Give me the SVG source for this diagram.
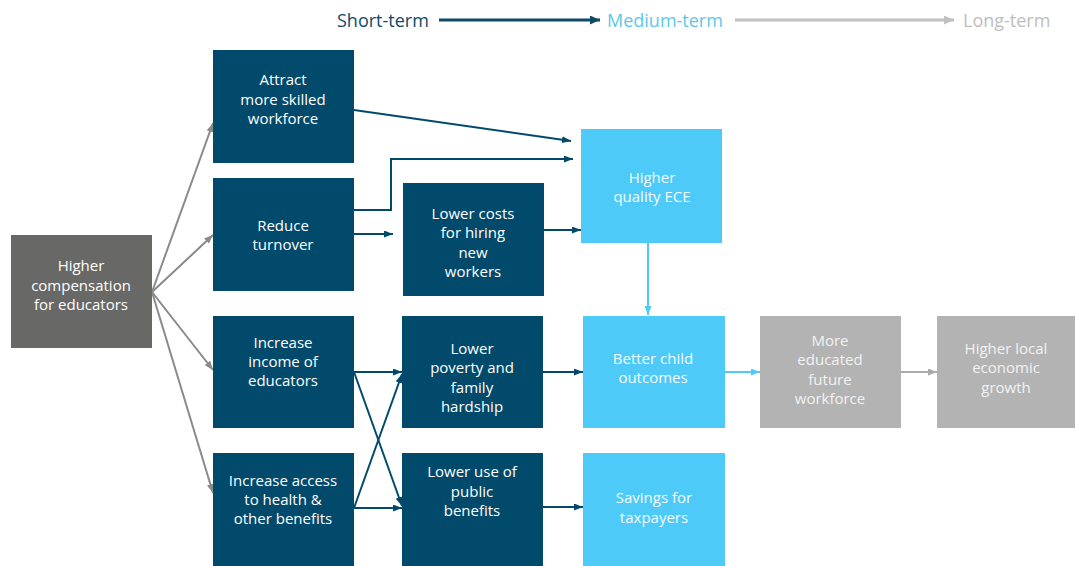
<svg xmlns="http://www.w3.org/2000/svg" width="1075" height="566" viewBox="0 0 1075 566">
<style>
  .t { font-family: "Open Sans", "Noto Sans", "Liberation Sans", sans-serif; font-size: 15px; text-anchor: middle; }
  .hdr { font-family: "Open Sans", "Noto Sans", "Liberation Sans", sans-serif; font-size: 18px; }
  .navy { fill: #024a6b; }
  .blue { fill: #4ecaf8; }
  .dgray { fill: #686866; }
  .lgray { fill: #b3b3b3; }
  .tw { fill: #ffffff; }
  .tb { fill: #f2fbff; }
  .tg { fill: #f2f2f2; }
  .c-fan { stroke: #8a8a8a; stroke-width: 2; fill: none; }
  .c-navy { stroke: #024a6b; stroke-width: 2; fill: none; }
  .c-blue { stroke: #4ecaf8; stroke-width: 2; fill: none; }
  .c-gray { stroke: #aaaaaa; stroke-width: 2; fill: none; }
</style>
<defs>
  <marker id="aFan" viewBox="0 0 9 7" refX="9" refY="3.5" markerWidth="9" markerHeight="7" markerUnits="userSpaceOnUse" orient="auto"><path d="M0,0 L9,3.5 L0,7 z" fill="#8a8a8a"/></marker>
  <marker id="aNavy" viewBox="0 0 9 7" refX="9" refY="3.5" markerWidth="9" markerHeight="7" markerUnits="userSpaceOnUse" orient="auto"><path d="M0,0 L9,3.5 L0,7 z" fill="#024a6b"/></marker>
  <marker id="aBlue" viewBox="0 0 9 7" refX="9" refY="3.5" markerWidth="9" markerHeight="7" markerUnits="userSpaceOnUse" orient="auto"><path d="M0,0 L9,3.5 L0,7 z" fill="#4ecaf8"/></marker>
  <marker id="aGray" viewBox="0 0 9 7" refX="9" refY="3.5" markerWidth="9" markerHeight="7" markerUnits="userSpaceOnUse" orient="auto"><path d="M0,0 L9,3.5 L0,7 z" fill="#aaaaaa"/></marker>
  <marker id="hNavy" viewBox="0 0 10 9" refX="10" refY="4.5" markerWidth="10" markerHeight="9" markerUnits="userSpaceOnUse" orient="auto"><path d="M0,0 L10,4.5 L0,9 z" fill="#0d4a68"/></marker>
  <marker id="hGray" viewBox="0 0 10 9" refX="10" refY="4.5" markerWidth="10" markerHeight="9" markerUnits="userSpaceOnUse" orient="auto"><path d="M0,0 L10,4.5 L0,9 z" fill="#c0c0c0"/></marker>
</defs>
<rect width="1075" height="566" fill="#ffffff"/>

<g id="timeline">
  <text class="hdr" x="337" y="27" fill="#0d4a68">Short-term</text>
  <line x1="439" y1="20" x2="600" y2="20" stroke="#0d4a68" stroke-width="3" marker-end="url(#hNavy)"/>
  <text class="hdr" x="607" y="27" fill="#5cc8ea">Medium-term</text>
  <line x1="735" y1="20" x2="954" y2="20" stroke="#c0c0c0" stroke-width="3" marker-end="url(#hGray)"/>
  <text class="hdr" x="963" y="27" fill="#bdbdbd">Long-term</text>
</g>

<g id="connectors">
  <line class="c-fan" x1="152" y1="292" x2="213" y2="123" marker-end="url(#aFan)"/>
  <line class="c-fan" x1="152" y1="292" x2="213" y2="235" marker-end="url(#aFan)"/>
  <line class="c-fan" x1="152" y1="292" x2="213" y2="370" marker-end="url(#aFan)"/>
  <line class="c-fan" x1="152" y1="292" x2="213" y2="493" marker-end="url(#aFan)"/>
  <line class="c-navy" x1="354" y1="110" x2="571" y2="141" marker-end="url(#aNavy)"/>
  <polyline class="c-navy" points="354,210 391,210 391,159 573,159" marker-end="url(#aNavy)"/>
  <line class="c-navy" x1="354" y1="234" x2="393" y2="234" marker-end="url(#aNavy)"/>
  <line class="c-navy" x1="544" y1="230" x2="581" y2="230" marker-end="url(#aNavy)"/>
  <line class="c-blue" x1="648" y1="243" x2="648" y2="315" marker-end="url(#aBlue)"/>
  <line class="c-navy" x1="354" y1="372" x2="402" y2="372" marker-end="url(#aNavy)"/>
  <line class="c-navy" x1="354" y1="372" x2="402" y2="506" marker-end="url(#aNavy)"/>
  <line class="c-navy" x1="354" y1="508" x2="402" y2="374" marker-end="url(#aNavy)"/>
  <line class="c-navy" x1="354" y1="508" x2="402" y2="508" marker-end="url(#aNavy)"/>
  <line class="c-navy" x1="543" y1="372" x2="583" y2="372" marker-end="url(#aNavy)"/>
  <line class="c-navy" x1="543" y1="507" x2="583" y2="507" marker-end="url(#aNavy)"/>
  <line class="c-blue" x1="725" y1="372" x2="760" y2="372" marker-end="url(#aBlue)"/>
  <line class="c-gray" x1="901" y1="372" x2="937" y2="372" marker-end="url(#aGray)"/>
</g>

<g id="n-comp">
  <rect class="dgray" x="11" y="235" width="141" height="113"/>
  <text class="t tw" x="81" y="271">Higher</text>
  <text class="t tw" x="81" y="291">compensation</text>
  <text class="t tw" x="81" y="310">for educators</text>
</g>
<g id="n-attract">
  <rect class="navy" x="213" y="50" width="141" height="113"/>
  <text class="t tw" x="283" y="85">Attract</text>
  <text class="t tw" x="283" y="105">more skilled</text>
  <text class="t tw" x="283" y="124">workforce</text>
</g>
<g id="n-turnover">
  <rect class="navy" x="213" y="178" width="141" height="113"/>
  <text class="t tw" x="283" y="231">Reduce</text>
  <text class="t tw" x="283" y="250">turnover</text>
</g>
<g id="n-income">
  <rect class="navy" x="213" y="316" width="141" height="112"/>
  <text class="t tw" x="283" y="348">Increase</text>
  <text class="t tw" x="283" y="367">income of</text>
  <text class="t tw" x="283" y="386">educators</text>
</g>
<g id="n-access">
  <rect class="navy" x="213" y="453" width="141" height="113"/>
  <text class="t tw" x="283" y="486">Increase access</text>
  <text class="t tw" x="283" y="505">to health &amp;</text>
  <text class="t tw" x="283" y="524">other benefits</text>
</g>
<g id="n-costs">
  <rect class="navy" x="403" y="183" width="141" height="113"/>
  <text class="t tw" x="473" y="219">Lower costs</text>
  <text class="t tw" x="473" y="238">for hiring</text>
  <text class="t tw" x="473" y="258">new</text>
  <text class="t tw" x="473" y="277">workers</text>
</g>
<g id="n-quality">
  <rect class="blue" x="581" y="129" width="141" height="114"/>
  <text class="t tb" x="652" y="183">Higher</text>
  <text class="t tb" x="652" y="202">quality ECE</text>
</g>
<g id="n-poverty">
  <rect class="navy" x="402" y="316" width="141" height="112"/>
  <text class="t tw" x="472" y="354">Lower</text>
  <text class="t tw" x="472" y="373">poverty and</text>
  <text class="t tw" x="472" y="393">family</text>
  <text class="t tw" x="472" y="412">hardship</text>
</g>
<g id="n-publicuse">
  <rect class="navy" x="402" y="453" width="141" height="113"/>
  <text class="t tw" x="472" y="477">Lower use of</text>
  <text class="t tw" x="472" y="497">public</text>
  <text class="t tw" x="472" y="516">benefits</text>
</g>
<g id="n-child">
  <rect class="blue" x="583" y="316" width="142" height="112"/>
  <text class="t tb" x="653" y="364">Better child</text>
  <text class="t tb" x="653" y="383">outcomes</text>
</g>
<g id="n-savings">
  <rect class="blue" x="583" y="453" width="142" height="113"/>
  <text class="t tb" x="654" y="503">Savings for</text>
  <text class="t tb" x="654" y="523">taxpayers</text>
</g>
<g id="n-workforce">
  <rect class="lgray" x="760" y="316" width="141" height="112"/>
  <text class="t tg" x="830" y="346">More</text>
  <text class="t tg" x="830" y="365">educated</text>
  <text class="t tg" x="830" y="385">future</text>
  <text class="t tg" x="830" y="404">workforce</text>
</g>
<g id="n-growth">
  <rect class="lgray" x="937" y="316" width="138" height="112"/>
  <text class="t tg" x="1006" y="354">Higher local</text>
  <text class="t tg" x="1006" y="373">economic</text>
  <text class="t tg" x="1006" y="393">growth</text>
</g>
</svg>
